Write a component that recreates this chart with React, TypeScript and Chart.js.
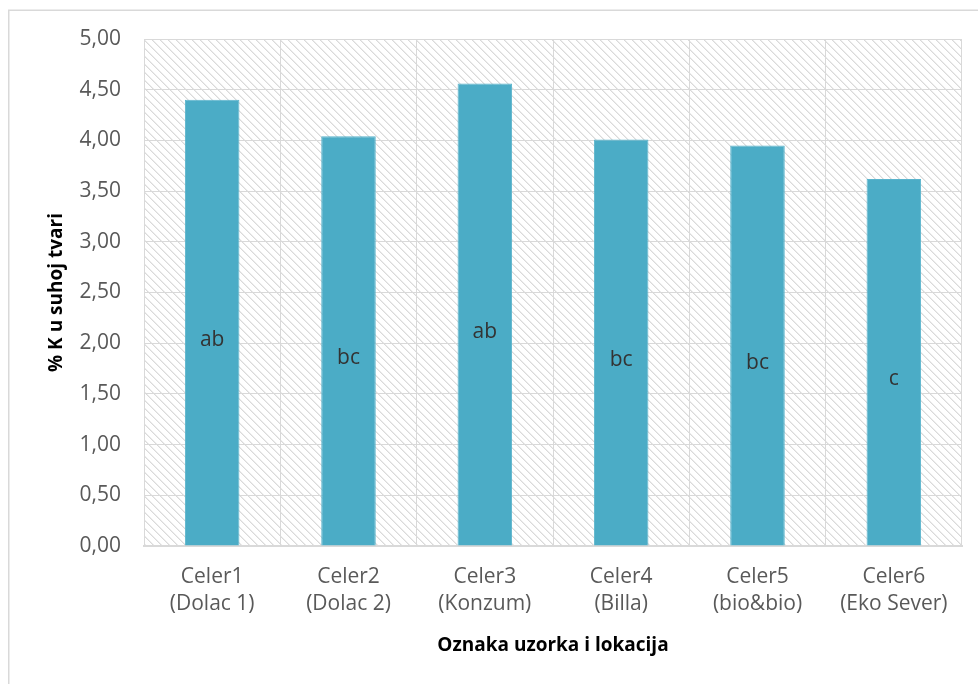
import React, { useEffect, useRef } from "react";
import { Chart, registerables } from "chart.js";

Chart.register(...registerables);

const categories: string[][] = [
  ["Celer1", "(Dolac 1)"],
  ["Celer2", "(Dolac 2)"],
  ["Celer3", "(Konzum)"],
  ["Celer4", "(Billa)"],
  ["Celer5", "(bio&bio)"],
  ["Celer6", "(Eko Sever)"],
];
const kValues: number[] = [4.4, 4.04, 4.56, 4.01, 3.95, 3.62];
const letters: string[] = ["ab", "bc", "ab", "bc", "bc", "c"];
const yTitle = "% K u suhoj tvari";
const xTitle = "Oznaka uzorka i lokacija";

const FONT = "'Open Sans', 'Noto Sans', sans-serif";

function makePattern(ctx: CanvasRenderingContext2D): CanvasPattern | string {
  const c = document.createElement("canvas");
  c.width = 8;
  c.height = 8;
  const p = c.getContext("2d");
  if (!p) return "#ffffff";
  p.fillStyle = "#ffffff";
  p.fillRect(0, 0, 8, 8);
  for (let y = 0; y < 8; y++) {
    p.fillStyle = "#dadada";
    p.fillRect(y % 8, y, 1, 1);
    p.fillStyle = "#ececec";
    p.fillRect((y + 1) % 8, y, 1, 1);
  }
  return ctx.createPattern(c, "repeat") || "#ffffff";
}

const bgPlugin = {
  id: "bgPlugin",
  beforeDraw(chart: any) {
    const { ctx, chartArea } = chart;
    ctx.save();
    ctx.fillStyle = "#ffffff";
    ctx.fillRect(0, 0, chart.width, chart.height);
    ctx.strokeStyle = "#d9d9d9";
    ctx.lineWidth = 1.5;
    ctx.beginPath();
    ctx.moveTo(8.75, chart.height);
    ctx.lineTo(8.75, 10.25);
    ctx.lineTo(chart.width, 10.25);
    ctx.stroke();
    ctx.fillStyle = makePattern(ctx);
    ctx.fillRect(
      chartArea.left,
      chartArea.top,
      chartArea.right - chartArea.left,
      chartArea.bottom - chartArea.top
    );
    ctx.restore();
  },
};

const letterPlugin = {
  id: "letterPlugin",
  afterDatasetsDraw(chart: any) {
    const { ctx } = chart;
    const yScale = chart.scales.y;
    const meta = chart.getDatasetMeta(0);
    ctx.save();
    ctx.font = `21px ${FONT}`;
    ctx.fillStyle = "#333333";
    ctx.textAlign = "center";
    ctx.textBaseline = "middle";
    meta.data.forEach((bar: any, i: number) => {
      const y = yScale.getPixelForValue(kValues[i] / 2) + 17;
      ctx.fillText(letters[i], bar.x, y);
    });
    ctx.restore();
  },
};

export default function App() {
  const ref = useRef<HTMLCanvasElement | null>(null);
  useEffect(() => {
    if (!ref.current) return;
    const chart = new Chart(ref.current, {
      type: "bar",
      data: {
        labels: categories,
        datasets: [
          {
            data: kValues,
            backgroundColor: "#4bacc6",
            borderColor: "#5ab4cc",
            borderWidth: 1,
            barPercentage: 0.4,
            categoryPercentage: 1,
          },
        ],
      },
      options: {
        animation: false,
        responsive: false,
        devicePixelRatio: 1,
        layout: { padding: { top: 39, right: 16, left: 0, bottom: 0 } },
        plugins: {
          legend: { display: false },
          tooltip: { enabled: false },
        },
        scales: {
          x: {
            afterFit(scale: any) {
              scale.height = 138;
            },
            grid: { color: "#d9d9d9", drawTicks: false, offset: true },
            border: { color: "#d9d9d9", width: 2 },
            ticks: {
              color: "#595959",
              font: { family: FONT, size: 21, lineHeight: 1.3 },
              padding: 17,
              maxRotation: 0,
              autoSkip: false,
            },
            title: {
              display: true,
              text: xTitle,
              color: "#000000",
              font: { family: FONT, size: 19, weight: "bold" },
              padding: { top: 0, bottom: 27 },
            },
          },
          y: {
            min: 0,
            max: 5,
            afterFit(scale: any) {
              scale.width = 144;
            },
            grid: { color: "#d9d9d9", drawTicks: false },
            border: { color: "#d9d9d9", width: 1 },
            ticks: {
              stepSize: 0.5,
              color: "#595959",
              font: { family: FONT, size: 21 },
              padding: 23,
              callback: (v: any) => Number(v).toFixed(2).replace(".", ","),
            },
            title: {
              display: true,
              text: yTitle,
              color: "#000000",
              font: { family: FONT, size: 19, weight: "bold" },
              padding: { top: 45, bottom: 0 },
            },
          },
        },
      },
      plugins: [bgPlugin, letterPlugin],
    });
    return () => chart.destroy();
  }, []);
  return (
    <div style={{ position: "fixed", left: 0, top: 0, width: 978, height: 684 }}>
      <canvas ref={ref} width={978} height={684} style={{ width: 978, height: 684 }} />
    </div>
  );
}
